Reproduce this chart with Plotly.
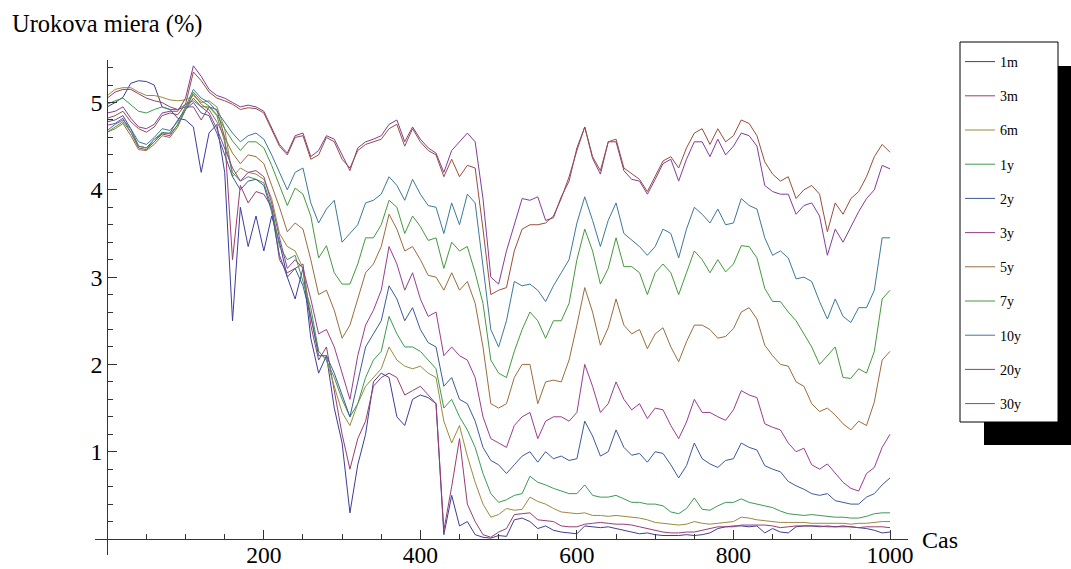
import plotly.graph_objects as go

# ---------------- data ----------------
x_days = list(range(0, 1001, 10))

series_names = ["1m", "3m", "6m", "1y", "2y", "3y", "5y", "7y", "10y", "20y", "30y"]

rate_1m = [4.95, 5.00, 5.06, 5.22, 5.25, 5.24, 5.20, 4.95, 4.92, 4.82,
           4.80, 4.72, 4.20, 4.65, 4.75, 4.20, 2.50, 3.80, 3.35, 3.70,
           3.30, 3.70, 3.40, 3.00, 2.75, 3.10, 2.30, 1.90, 2.10, 1.50,
           1.10, 0.30, 0.85, 1.20, 1.80, 1.90, 1.85, 1.40, 1.30, 1.60,
           1.65, 1.62, 1.55, 0.05, 0.50, 0.15, 0.20, 0.05, 0.02, 0.01,
           0.04, 0.03, 0.22, 0.24, 0.20, 0.12, 0.15, 0.10, 0.08, 0.07,
           0.06, 0.15, 0.14, 0.13, 0.14, 0.12, 0.10, 0.08, 0.06, 0.07,
           0.05, 0.04, 0.04, 0.04, 0.05, 0.04, 0.05, 0.07, 0.12, 0.14,
           0.15, 0.15, 0.14, 0.15, 0.07, 0.12, 0.08, 0.07, 0.14, 0.15,
           0.15, 0.14, 0.15, 0.14, 0.15, 0.14, 0.13, 0.12, 0.10, 0.07,
           0.08]

rate_3m = [5.05, 5.12, 5.15, 5.15, 5.10, 5.05, 5.02, 5.00, 4.95, 4.92,
           4.95, 4.95, 4.80, 4.95, 4.92, 4.60, 3.20, 4.05, 3.85, 3.98,
           3.95, 3.80, 3.20, 3.05, 3.10, 3.15, 2.45, 2.05, 2.20, 1.70,
           1.20, 0.80, 1.15, 1.35, 1.75, 1.85, 1.90, 1.85, 1.65, 1.70,
           1.75, 1.65, 1.55, 0.10, 0.60, 1.15, 0.40, 0.20, 0.05, 0.02,
           0.08, 0.12, 0.28, 0.29, 0.30, 0.22, 0.21, 0.20, 0.15, 0.14,
           0.14, 0.17, 0.18, 0.19, 0.18, 0.17, 0.17, 0.16, 0.14, 0.12,
           0.10, 0.08, 0.07, 0.07, 0.08, 0.08, 0.10, 0.12, 0.14, 0.14,
           0.14, 0.16, 0.16, 0.16, 0.16, 0.15, 0.13, 0.14, 0.15, 0.15,
           0.15, 0.15, 0.14, 0.14, 0.14, 0.14, 0.13, 0.14, 0.14, 0.14,
           0.13]

rate_6m = [5.08, 5.15, 5.17, 5.17, 5.12, 5.08, 5.08, 5.06, 5.03, 5.02,
           5.03, 5.08, 5.00, 5.02, 4.95, 4.70, 4.15, 4.25, 4.20, 4.18,
           4.12, 3.90, 3.50, 3.35, 3.30, 3.10, 2.55, 2.15, 2.05, 1.75,
           1.45, 1.30, 1.55, 1.75, 1.85, 1.95, 2.20, 2.05, 1.98, 1.95,
           1.98, 1.90, 1.85, 1.35, 1.10, 1.30, 0.95, 0.65, 0.40, 0.25,
           0.28, 0.35, 0.33, 0.34, 0.48, 0.43, 0.40, 0.35, 0.31, 0.30,
           0.29, 0.30, 0.27, 0.27, 0.26, 0.27, 0.26, 0.25, 0.24, 0.22,
           0.19, 0.18, 0.17, 0.16, 0.17, 0.20, 0.18, 0.17, 0.18, 0.19,
           0.20, 0.25, 0.24, 0.22, 0.21, 0.20, 0.19, 0.19, 0.19, 0.19,
           0.18, 0.18, 0.18, 0.18, 0.18, 0.17, 0.18, 0.18, 0.19, 0.20,
           0.20]

rate_1y = [4.98, 5.02, 5.05, 4.98, 4.90, 4.88, 4.92, 4.95, 4.92, 4.92,
           4.98, 5.02, 4.95, 4.95, 4.85, 4.55, 4.20, 4.10, 4.15, 4.12,
           4.08, 3.80, 3.35, 3.20, 3.25, 2.95, 2.65, 2.15, 2.05, 1.85,
           1.60, 1.40, 1.55, 1.85, 2.05, 2.15, 2.55, 2.35, 2.20, 2.20,
           2.15, 2.05, 1.95, 1.50, 1.60, 1.40, 1.25, 1.05, 0.75, 0.52,
           0.42, 0.45, 0.50, 0.52, 0.72, 0.65, 0.62, 0.58, 0.55, 0.52,
           0.52, 0.62, 0.50, 0.48, 0.48, 0.50, 0.46, 0.42, 0.42, 0.40,
           0.40, 0.38, 0.31, 0.29, 0.35, 0.47, 0.34, 0.33, 0.38, 0.42,
           0.42, 0.46, 0.42, 0.40, 0.38, 0.36, 0.32, 0.29, 0.28, 0.27,
           0.28, 0.27, 0.26, 0.25, 0.25, 0.24, 0.24, 0.26, 0.29, 0.30,
           0.30]

rate_2y = [4.78, 4.80, 4.85, 4.70, 4.50, 4.48, 4.58, 4.65, 4.65, 4.80,
           4.92, 5.00, 4.88, 4.85, 4.65, 4.40, 4.15, 4.00, 4.10, 4.12,
           4.05, 3.75, 3.25, 3.00, 3.10, 2.90, 2.55, 2.10, 2.10, 1.90,
           1.65, 1.40, 1.80, 2.20, 2.35, 2.50, 2.90, 2.75, 2.50, 2.65,
           2.40, 2.25, 2.20, 1.75, 1.85, 1.60, 1.55, 1.35, 1.05, 0.90,
           0.85, 0.75, 0.85, 0.95, 1.00, 0.88, 1.00, 0.92, 0.95, 0.90,
           0.92, 1.35, 1.18, 0.95, 1.00, 1.25, 1.05, 0.96, 0.98, 0.88,
           1.00, 0.98, 0.85, 0.70, 0.84, 1.10, 0.92, 0.86, 0.82, 0.90,
           0.92, 1.10, 1.05, 1.02, 0.84, 0.80, 0.77, 0.66, 0.61, 0.57,
           0.52, 0.50, 0.52, 0.44, 0.42, 0.40, 0.40, 0.48, 0.52, 0.62,
           0.70]

rate_3y = [4.74, 4.76, 4.82, 4.66, 4.48, 4.46, 4.55, 4.64, 4.62, 4.75,
           4.92, 5.05, 4.95, 4.88, 4.70, 4.48, 4.25, 4.10, 4.20, 4.22,
           4.15, 3.85, 3.45, 3.10, 3.20, 3.10, 2.75, 2.35, 2.40, 2.20,
           1.90, 1.60, 2.10, 2.45, 2.62, 2.85, 3.35, 3.15, 2.85, 3.05,
           2.75, 2.55, 2.60, 2.10, 2.20, 2.10, 2.05, 1.85, 1.40, 1.15,
           1.10, 1.05, 1.30, 1.40, 1.45, 1.15, 1.35, 1.40, 1.40, 1.35,
           1.45, 2.00, 1.75, 1.45, 1.55, 1.80, 1.60, 1.48, 1.55, 1.38,
           1.50, 1.48, 1.30, 1.15, 1.34, 1.60, 1.45, 1.45, 1.40, 1.36,
           1.48, 1.70, 1.65, 1.62, 1.32, 1.28, 1.25, 1.10, 1.00, 1.04,
           0.85, 0.80, 0.86, 0.75, 0.65, 0.58, 0.55, 0.75, 0.82, 1.05,
           1.20]

rate_5y = [4.66, 4.70, 4.76, 4.62, 4.46, 4.45, 4.52, 4.62, 4.60, 4.72,
           4.92, 5.10, 4.98, 4.92, 4.78, 4.60, 4.42, 4.30, 4.40, 4.38,
           4.30, 4.05, 3.80, 3.52, 3.62, 3.55, 3.20, 2.80, 2.85, 2.62,
           2.30, 2.45, 2.75, 3.05, 3.15, 3.35, 3.72, 3.55, 3.30, 3.35,
           3.20, 3.02, 3.00, 2.85, 3.05, 2.85, 2.95, 2.70, 2.20, 1.55,
           1.50, 1.55, 1.85, 2.00, 2.00, 1.55, 1.80, 1.82, 1.80, 2.05,
           2.45, 2.88, 2.60, 2.22, 2.42, 2.75, 2.45, 2.35, 2.40, 2.18,
           2.35, 2.42, 2.20, 2.03, 2.26, 2.45, 2.45, 2.40, 2.30, 2.32,
           2.41, 2.60, 2.65, 2.52, 2.22, 2.10, 2.00, 1.98, 1.80, 1.75,
           1.55, 1.46, 1.50, 1.42, 1.32, 1.25, 1.35, 1.30, 1.57, 2.05,
           2.15]

rate_7y = [4.66, 4.72, 4.78, 4.66, 4.50, 4.48, 4.55, 4.66, 4.64, 4.74,
           4.92, 5.12, 5.02, 4.96, 4.86, 4.70, 4.56, 4.45, 4.55, 4.55,
           4.48, 4.28, 4.05, 3.82, 4.02, 3.95, 3.70, 3.22, 3.36, 3.05,
           2.92, 2.92, 3.15, 3.45, 3.45, 3.60, 3.88, 3.80, 3.50, 3.70,
           3.58, 3.42, 3.45, 3.10, 3.40, 3.30, 3.35, 3.05, 2.70, 2.05,
           1.90, 1.85, 2.15, 2.40, 2.60, 2.50, 2.30, 2.50, 2.50, 2.70,
           3.20, 3.55, 3.30, 2.92, 3.10, 3.45, 3.12, 3.12, 3.05, 2.80,
           3.05, 3.15, 3.05, 2.80, 3.05, 3.30, 3.20, 3.05, 3.20, 3.06,
           3.15, 3.36, 3.35, 3.22, 2.87, 2.72, 2.72, 2.60, 2.50, 2.35,
           2.20, 2.00, 2.10, 2.20, 1.85, 1.84, 1.95, 1.90, 2.15, 2.75,
           2.85]

rate_10y = [4.68, 4.75, 4.80, 4.70, 4.55, 4.52, 4.60, 4.70, 4.68, 4.78,
            4.95, 5.15, 5.05, 5.00, 4.90, 4.78, 4.65, 4.55, 4.62, 4.65,
            4.58, 4.40, 4.20, 4.00, 4.20, 4.25, 3.85, 3.62, 3.78, 3.88,
            3.40, 3.50, 3.60, 3.85, 3.88, 3.95, 4.15, 4.05, 3.88, 4.12,
            3.95, 3.82, 3.80, 3.50, 3.85, 3.60, 3.95, 3.85, 3.10, 2.40,
            2.20, 2.50, 2.95, 2.90, 2.92, 2.85, 2.72, 2.90, 3.05, 3.20,
            3.62, 3.92, 3.65, 3.35, 3.65, 3.85, 3.50, 3.42, 3.35, 3.25,
            3.35, 3.55, 3.50, 3.22, 3.55, 3.80, 3.72, 3.62, 3.78, 3.60,
            3.62, 3.90, 3.82, 3.78, 3.45, 3.25, 3.30, 3.22, 2.98, 3.00,
            2.95, 2.72, 2.52, 2.75, 2.55, 2.48, 2.65, 2.65, 2.85, 3.45,
            3.45]

rate_20y = [4.88, 4.90, 4.95, 4.82, 4.72, 4.70, 4.75, 4.88, 4.90, 4.90,
            5.05, 5.42, 5.30, 5.15, 5.08, 5.05, 5.00, 4.95, 4.97, 4.95,
            4.90, 4.70, 4.52, 4.42, 4.62, 4.65, 4.38, 4.45, 4.62, 4.58,
            4.40, 4.22, 4.48, 4.55, 4.58, 4.62, 4.75, 4.80, 4.55, 4.72,
            4.58, 4.48, 4.42, 4.20, 4.45, 4.55, 4.65, 4.55, 3.90, 3.00,
            2.92, 3.30, 3.60, 3.90, 3.88, 3.92, 3.65, 3.68, 3.92, 4.10,
            4.48, 4.72, 4.36, 4.18, 4.55, 4.55, 4.22, 4.12, 4.10, 3.95,
            4.12, 4.30, 4.35, 4.10, 4.35, 4.55, 4.55, 4.38, 4.58, 4.40,
            4.50, 4.65, 4.62, 4.50, 4.05, 3.98, 3.95, 3.95, 3.72, 3.82,
            3.85, 3.70, 3.25, 3.55, 3.40, 3.58, 3.75, 3.90, 4.00, 4.28,
            4.24]

rate_30y = [4.82, 4.85, 4.90, 4.78, 4.70, 4.66, 4.72, 4.85, 4.88, 4.86,
            4.98, 5.35, 5.25, 5.12, 5.05, 5.02, 4.98, 4.92, 4.94, 4.93,
            4.88, 4.68, 4.50, 4.40, 4.60, 4.62, 4.35, 4.40, 4.60, 4.55,
            4.35, 4.25, 4.45, 4.52, 4.55, 4.58, 4.70, 4.75, 4.50, 4.70,
            4.55, 4.45, 4.40, 4.15, 4.35, 4.15, 4.28, 4.25, 3.55, 2.80,
            2.85, 2.88, 3.30, 3.55, 3.60, 3.60, 3.62, 3.70, 3.90, 4.15,
            4.45, 4.72, 4.38, 4.22, 4.55, 4.58, 4.25, 4.18, 4.12, 3.98,
            4.15, 4.33, 4.38, 4.25, 4.48, 4.65, 4.70, 4.52, 4.70, 4.55,
            4.62, 4.80, 4.76, 4.62, 4.32, 4.18, 4.10, 4.15, 3.90, 4.00,
            4.05, 3.95, 3.52, 3.85, 3.72, 3.90, 3.98, 4.15, 4.38, 4.52,
            4.43]

series_values = [rate_1m, rate_3m, rate_6m, rate_1y, rate_2y, rate_3y,
                 rate_5y, rate_7y, rate_10y, rate_20y, rate_30y]

x_major_ticks = [200, 400, 600, 800, 1000]
x_minor_ticks = [50 * k for k in range(1, 21)]
y_major_ticks = [1, 2, 3, 4, 5]
y_minor_ticks = [round(0.2 * k, 1) for k in range(1, 28)]

y_title = "Urokova miera (%)"
x_title = "Cas"

# ---------------- style ----------------
colors = ["#3D3D99", "#993D71", "#998B3D", "#3D9956", "#3D5A99", "#993D90",
          "#996D3D", "#45993D", "#3D7999", "#833D99", "#994E3D"]
FONT = "Liberation Serif, Times New Roman, serif"
AX = "#333333"

fig = go.Figure()
for name, vals, col in zip(series_names, series_values, colors):
    fig.add_trace(go.Scatter(x=x_days, y=vals, mode="lines", name=name,
                             legendgroup=name,
                             line=dict(color=col, width=1)))

x_rng = [-15.7, 1023]
y_rng = [-0.183, 5.487]
x_pos = (0 - y_rng[0]) / (y_rng[1] - y_rng[0])
y_pos = (0 - x_rng[0]) / (x_rng[1] - x_rng[0])

fig.update_layout(
    width=1071, height=569,
    margin=dict(l=95, r=163, t=60, b=14, autoexpand=False),
    paper_bgcolor="white", plot_bgcolor="white",
    font=dict(family=FONT, color="black"),
    xaxis=dict(range=x_rng, anchor="free", position=x_pos,
               showline=True, linecolor=AX, linewidth=1,
               showgrid=False, zeroline=False,
               tickmode="array", tickvals=x_major_ticks,
               ticks="inside", ticklen=9, tickcolor=AX, tickwidth=1,
               ticklabelstandoff=-5,
               tickfont=dict(size=23.5, family=FONT, color="black"),
               minor=dict(tickmode="array", tickvals=x_minor_ticks,
                          ticks="inside", ticklen=5, tickcolor=AX)),
    yaxis=dict(range=y_rng, anchor="free", position=y_pos,
               showline=True, linecolor=AX, linewidth=1,
               showgrid=False, zeroline=False,
               tickmode="array", tickvals=y_major_ticks,
               ticks="inside", ticklen=9, tickcolor=AX, tickwidth=1,
               tickfont=dict(size=24, family=FONT, color="black"),
               minor=dict(tickmode="array", tickvals=y_minor_ticks,
                          ticks="inside", ticklen=5, tickcolor=AX)),
    showlegend=True,
    legend=dict(x=(960 - 95) / 813, y=(555 - 46) / 495,
                xanchor="left", yanchor="top",
                bgcolor="rgba(0,0,0,0)", borderwidth=0,
                traceorder="grouped", tracegroupgap=13,
                maxheight=460,
                font=dict(size=14, family=FONT, color="black")),
    shapes=[
        dict(type="rect", xref="paper", yref="paper",
             x0=(984 - 95) / 813, x1=(1075 - 95) / 813,
             y0=(555 - 445) / 495, y1=(555 - 66) / 495,
             fillcolor="black", line=dict(width=0), layer="above"),
        dict(type="rect", xref="paper", yref="paper",
             x0=(960 - 95) / 813, x1=(1058 - 95) / 813,
             y0=(555 - 422) / 495, y1=(555 - 42) / 495,
             fillcolor="white", line=dict(color="black", width=1), layer="above"),
    ],
    annotations=[
        dict(text=y_title, xref="paper", yref="paper",
             x=(10 - 95) / 813, y=(555 - 23.5) / 495,
             xanchor="left", yanchor="middle", showarrow=False,
             font=dict(size=24.5, family=FONT, color="black")),
        dict(text=x_title, xref="paper", yref="paper",
             x=(920 - 95) / 813, y=(555 - 540) / 495,
             xanchor="left", yanchor="middle", showarrow=False,
             font=dict(size=24, family=FONT, color="black")),
    ],
)

fig.write_html("out.html")
